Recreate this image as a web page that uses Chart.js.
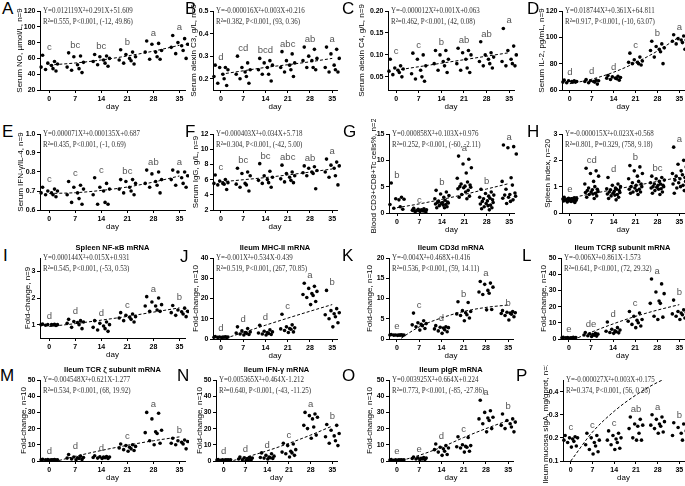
<!DOCTYPE html>
<html>
<head>
<meta charset="utf-8">
<script src="https://cdn.jsdelivr.net/npm/chart.js@4.4.0/dist/chart.umd.min.js"></script>
<style>
body { margin: 0; background: #fff; width: 685px; height: 486px; position: relative; overflow: hidden; font-family: "Liberation Sans", Arial, sans-serif; }
canvas { position: absolute; }
.plabel { position: absolute; font-size: 17px; line-height: 17px; color: #000; }
</style>
</head>
<body>
<script>
"use strict";

var days = [0, 7, 14, 21, 28, 35];
var dayLabels = ["0", "7", "14", "21", "28", "35"];

var aValues = [[64, 56, 54, 53, 51, 49, 47, 46, 44], [67, 63, 62, 55, 52, 49, 47, 45, 42], [65, 63, 62, 60, 58, 56, 54, 52, 50], [71, 68, 65, 62, 60, 58, 57, 54, 53], [82, 79, 78, 70, 68, 68, 62, 59, 59], [89, 85, 80, 78, 76, 74, 70, 66, 60]];
var aLetters = ["c", "bc", "bc", "b", "a", "a"];
var aTrend = [51.6, 54.2, 58.0, 63.1, 69.2, 76.6];
var aTicks = ["20", "40", "60", "80", "100", "120"];

var bValues = [[0.26, 0.25, 0.25, 0.24, 0.22, 0.21, 0.20, 0.18, 0.17], [0.30, 0.27, 0.25, 0.24, 0.23, 0.22, 0.21, 0.20, 0.18], [0.29, 0.28, 0.27, 0.26, 0.25, 0.24, 0.22, 0.22, 0.19], [0.32, 0.31, 0.28, 0.27, 0.26, 0.25, 0.24, 0.23, 0.21], [0.34, 0.33, 0.30, 0.29, 0.28, 0.28, 0.25, 0.25, 0.24], [0.34, 0.33, 0.31, 0.29, 0.26, 0.25, 0.24, 0.23, 0.23]];
var bLetters = ["d", "cd", "bcd", "abc", "ab", "a"];
var bTrend = [0.22, 0.235, 0.25, 0.262, 0.275, 0.29];
var bTicks = ["0.2", "0.3", "0.4", "0.5"];

var cValues = [[0.09, 0.075, 0.07, 0.068, 0.065, 0.063, 0.06, 0.055, 0.05], [0.104, 0.10, 0.09, 0.075, 0.065, 0.057, 0.05, 0.045, 0.04], [0.11, 0.11, 0.10, 0.09, 0.085, 0.08, 0.075, 0.065, 0.06], [0.115, 0.11, 0.105, 0.10, 0.09, 0.08, 0.07, 0.065, 0.06], [0.13, 0.105, 0.10, 0.095, 0.09, 0.085, 0.08, 0.075, 0.07], [0.16, 0.12, 0.11, 0.10, 0.09, 0.085, 0.08, 0.075, 0.075]];
var cLetters = ["c", "c", "b", "ab", "ab", "a"];
var cTrend = [0.065, 0.073, 0.081, 0.089, 0.097, 0.105];
var cTicks = ["0.05", "0.10", "0.15", "0.20"];

var dValues = [[67.5, 67, 67, 66.5, 66.5, 66, 66, 65.5, 66], [68, 67.5, 67, 67, 66.5, 66.5, 66, 65.5, 64.5], [71, 70.5, 70, 69.5, 69, 69, 68.5, 68, 67.5], [88, 85, 83, 82, 81, 81, 80, 80, 79], [97, 95, 93, 92, 91, 90, 89, 85, 80], [102, 101, 99, 98, 98, 97, 96, 95, 91]];
var dLetters = ["d", "d", "d", "c", "b", "a"];
var dTrend = [64.8, 68.2, 73.5, 80.7, 89.6, 100.4];
var dTicks = ["60", "80", "100", "120"];

var eValues = [[0.72, 0.71, 0.70, 0.70, 0.69, 0.69, 0.68, 0.68, 0.67], [0.75, 0.73, 0.72, 0.71, 0.69, 0.68, 0.66, 0.64, 0.63], [0.77, 0.74, 0.72, 0.71, 0.70, 0.68, 0.64, 0.63, 0.63], [0.76, 0.76, 0.75, 0.74, 0.72, 0.71, 0.70, 0.69, 0.68], [0.81, 0.80, 0.79, 0.76, 0.75, 0.74, 0.73, 0.72, 0.69], [0.81, 0.80, 0.80, 0.78, 0.77, 0.76, 0.74, 0.73, 0.72]];
var eLetters = ["c", "c", "c", "bc", "ab", "a"];
var eTrend = [0.687, 0.691, 0.703, 0.721, 0.747, 0.779];
var eTicks = ["0.6", "0.7", "0.8", "0.9", "1.0"];

var fValues = [[6.6, 6.0, 5.8, 5.6, 5.5, 5.5, 5.4, 5.3, 4.7], [7.5, 7.0, 6.8, 6.5, 5.5, 5.4, 5.3, 5.0, 4.5], [8.1, 7.1, 6.5, 6.3, 6.0, 5.9, 5.6, 5.5, 5.0], [7.9, 7.0, 6.8, 6.5, 6.3, 6.1, 5.9, 5.7, 5.6], [7.8, 7.7, 7.5, 7.2, 7.0, 6.9, 6.8, 6.5, 4.8], [8.7, 8.3, 7.9, 7.8, 7.5, 7.0, 6.5, 6.3, 5.3]];
var fLetters = ["c", "bc", "bc", "abc", "ab", "a"];
var fTrend = [5.7, 5.98, 6.27, 6.61, 6.99, 7.4];
var fTicks = ["2", "4", "6", "8", "10", "12"];

var gValues = [[5.7, 3.0, 2.7, 2.6, 2.5, 1.6, 1.2, 0.9, 0.7], [0.9, 0.8, 0.7, 0.6, 0.6, 0.5, 0.5, 0.4, 0.4, 0.3, 0.3, 0.2, 0.5, 0.6, 0.4], [4.3, 4.0, 3.6, 3.3, 3.0, 2.7, 2.4, 2.2, 2.1, 2.0, 2.0, 1.9, 1.8, 1.7, 1.6, 1.5, 1.4, 1.2, 1.0, 1.0], [10.8, 10.2, 9.3, 8.6, 7.6, 6.6, 5.9, 5.5, 5.3, 5.1, 5.0, 4.9, 4.8, 4.6, 4.3, 4.0, 3.5, 3.2, 3.0, 2.7], [4.5, 4.0, 3.7, 3.4, 3.2, 3.0, 2.8, 2.7, 2.5, 2.3, 2.2, 2.0, 1.8, 1.7, 1.5, 1.4, 1.2, 1.0, 0.8, 0.6], [12.9, 12.6, 12.4, 11.2, 6.7, 6.0, 5.3, 4.5, 3.8, 3.5, 3.4, 3.2, 3.0, 2.8, 2.5, 2.2, 1.8]];
var gLetters = ["b", "c", "b", "a", "b", "a"];
var gTrend = [1.0, 1.74, 2.59, 3.52, 4.56, 5.6];
var gTicks = ["0", "5", "10", "15"];

var hValues = [[0.6, 0.58, 0.56, 0.55, 0.54, 0.53, 0.52, 0.52, 0.5, 0.5, 0.49, 0.48, 0.47, 0.46, 0.45, 0.44, 0.42, 0.4], [1.7, 1.6, 1.5, 1.4, 1.2, 1.1, 1.0, 0.95, 0.9, 0.88, 0.85, 0.82, 0.8, 0.78, 0.75, 0.72, 0.7, 0.65, 0.6, 0.55], [1.35, 1.1, 1.05, 1.0, 0.95, 0.92, 0.9, 0.88, 0.85, 0.82, 0.8, 0.78, 0.75, 0.72, 0.7, 0.68, 0.65, 0.6, 0.55, 0.5], [1.8, 1.75, 1.6, 1.5, 1.4, 1.3, 1.2, 1.15, 1.1, 1.05, 1.0, 1.0, 0.95, 0.9, 0.9, 0.85, 0.8, 0.8, 0.75, 0.7], [1.4, 1.35, 1.3, 1.25, 1.2, 1.15, 1.1, 1.1, 1.05, 1.05, 1.0, 1.0, 0.98, 0.95, 0.92, 0.9, 0.85, 0.8, 0.75, 0.7], [2.5, 2.0, 1.85, 1.75, 1.6, 1.5, 1.45, 1.4, 1.35, 1.3, 1.25, 1.2, 1.15, 1.1, 1.05, 1.0, 0.95, 0.85, 0.75]];
var hLetters = ["e", "cd", "d", "b", "bc", "a"];
var hTrend = [0.57, 0.73, 0.89, 1.04, 1.20, 1.35];
var hTicks = ["0", "1", "2", "3"];

var iValues = [[1.02, 1.01, 1.0, 1.0, 1.0, 1.0, 0.99, 0.98, 0.97], [1.2, 1.15, 1.12, 1.1, 1.08, 1.05, 1.0, 0.9, 0.85], [1.15, 1.1, 1.05, 1.0, 0.95, 0.9, 0.85, 0.8, 0.75], [1.45, 1.4, 1.35, 1.3, 1.28, 1.25, 1.2, 1.15, 1.1], [2.05, 2.0, 1.85, 1.75, 1.7, 1.7, 1.55, 1.5, 1.5], [1.72, 1.62, 1.55, 1.5, 1.48, 1.45, 1.4, 1.35, 1.3]];
var iLetters = ["d", "d", "d", "c", "a", "b"];
var iTrend = [0.93, 1.04, 1.17, 1.31, 1.47, 1.63];
var iTicks = ["1", "2", "3"];

var jValues = [[1.2, 1.1, 1.0, 1.0, 1.0, 0.9, 0.9, 0.8, 0.8, 0.7], [6.0, 5.2, 4.0, 3.5, 3.2, 3.0, 2.8, 2.5, 2.2, 2.0], [6.8, 4.5, 3.8, 3.5, 3.2, 3.0, 2.7, 2.5, 2.2, 2.0], [12.2, 7.0, 6.0, 5.5, 5.2, 5.0, 4.8, 4.2, 3.5, 3.2], [27.5, 26.0, 25.0, 23.5, 22.5, 22.0, 21.5, 20.5, 18.5, 17.0], [24.0, 15.0, 14.0, 13.0, 12.5, 12.0, 11.0, 10.0, 8.0, 6.0]];
var jLetters = ["d", "d", "d", "c", "a", "b"];
var jTrend = [-0.4, 3.2, 6.8, 10.3, 13.7, 17.0];
var jTicks = ["0", "10", "20", "30", "40"];

var kValues = [[1.1, 1.05, 1.0, 1.0, 1.0, 1.0, 0.95, 0.95, 0.9, 0.9], [6.4, 4.5, 4.0, 3.8, 3.6, 3.5, 3.3, 3.0, 2.6, 2.2], [3.3, 3.0, 2.9, 2.8, 2.7, 2.5, 2.3, 2.0, 1.8, 1.4], [9.2, 9.0, 7.0, 6.8, 6.5, 6.2, 6.0, 5.8, 5.2, 4.5], [14.2, 13.8, 13.5, 12.8, 12.0, 11.6, 11.3, 11.0, 7.3, 7.2], [7.0, 6.8, 6.6, 6.5, 6.4, 6.3, 6.1, 5.8, 5.5, 4.7]];
var kLetters = ["e", "c", "d", "b", "a", "b"];
var kTrend = [-0.5, 3.0, 5.2, 6.8, 7.8, 8.4];
var kTicks = ["0", "5", "10", "15", "20"];

var lValues = [[1.0, 1.0, 0.9, 0.9, 0.8, 0.8, 0.7, 0.7, 0.6, 0.5], [4.0, 3.5, 3.2, 3.0, 2.8, 2.5, 2.3, 2.0, 1.8, 1.5], [10.5, 7.0, 6.0, 5.5, 5.0, 4.8, 4.5, 4.0, 3.8, 3.5], [17.0, 16.0, 14.0, 12.0, 11.5, 11.0, 10.0, 9.0, 8.0, 7.0], [37.0, 34.0, 29.0, 28.0, 23.5, 22.0, 22.0, 14.0, 13.5, 12.0], [24.0, 18.0, 17.0, 16.5, 16.0, 15.5, 15.0, 14.0, 13.0, 12.0]];
var lLetters = ["e", "de", "d", "c", "a", "b"];
var lTrend = [-1.6, 4.1, 9.3, 13.9, 17.8, 21.2];
var lTicks = ["0", "10", "20", "30", "40", "50"];

var mValues = [[1.0, 0.9, 0.9, 0.8, 0.8, 0.8, 0.7, 0.7, 0.6, 0.6], [4.0, 3.0, 2.5, 2.2, 2.0, 1.8, 1.5, 1.2, 1.0, 0.8], [3.2, 2.8, 2.6, 2.5, 2.4, 2.2, 2.0, 1.8, 1.6, 1.5], [10.5, 10.0, 9.5, 9.0, 8.5, 8.0, 7.5, 7.0, 6.5, 6.0], [30.0, 29.5, 26.0, 19.0, 18.0, 17.5, 17.0, 12.5, 11.0, 10.0], [14.0, 13.0, 12.5, 12.0, 11.5, 11.0, 10.5, 10.0, 7.5]];
var mLetters = ["d", "d", "d", "c", "a", "b"];
var mTrend = [-1.3, 2.9, 6.5, 9.7, 12.5, 14.9];
var mTicks = ["0", "10", "20", "30", "40", "50"];

var nValues = [[0.9, 0.8, 0.8, 0.7, 0.7, 0.6, 0.6, 0.5, 0.5, 0.4], [2.5, 2.2, 2.0, 1.8, 1.5, 1.2, 1.0, 0.8, 0.6, 0.5], [5.0, 4.5, 3.5, 3.0, 2.5, 2.2, 2.0, 1.8, 1.5, 1.2], [11.0, 10.5, 9.5, 7.0, 6.0, 5.5, 5.0, 4.5, 3.5, 2.5], [30.0, 29.0, 28.0, 27.0, 26.0, 22.0, 21.0, 20.0, 16.0, 14.0], [22.5, 22.0, 19.0, 17.0, 15.5, 15.0, 12.5, 11.0, 9.5]];
var nLetters = ["d", "d", "d", "c", "a", "b"];
var nTrend = [-1.2, 2.3, 6.3, 10.9, 16.0, 21.6];
var nTicks = ["0", "10", "20", "30", "40", "50"];

var oValues = [[0.9, 0.8, 0.8, 0.7, 0.7, 0.6, 0.6, 0.5, 0.5, 0.4], [2.5, 2.2, 2.0, 1.8, 1.6, 1.5, 1.3, 1.2, 1.0, 0.8], [10.5, 9.5, 8.5, 8.0, 7.5, 7.0, 6.0, 5.5, 4.0, 3.5], [15.0, 14.5, 10.0, 9.5, 9.0, 8.8, 8.5, 8.0, 6.0, 5.5], [37.5, 31.0, 30.0, 27.0, 26.5, 26.0, 25.0, 23.0, 20.0, 18.0], [29.0, 26.0, 25.0, 24.0, 23.0, 22.0, 21.0, 20.0, 18.0]];
var oLetters = ["e", "e", "d", "c", "a", "b"];
var oTrend = [-0.5, 3.5, 8.5, 14.5, 20.0, 25.0];
var oTicks = ["0", "10", "20", "30", "40", "50"];

var pValues = [[0.21, 0.205, 0.20, 0.20, 0.195, 0.19, 0.185, 0.18, 0.165, 0.16], [0.22, 0.21, 0.20, 0.19, 0.18, 0.17, 0.165, 0.15, 0.14, 0.13], [0.23, 0.22, 0.21, 0.20, 0.195, 0.19, 0.18, 0.17, 0.155, 0.15], [0.29, 0.28, 0.26, 0.255, 0.25, 0.24, 0.22, 0.20, 0.19, 0.19], [0.30, 0.29, 0.28, 0.27, 0.26, 0.255, 0.25, 0.24, 0.225, 0.22], [0.265, 0.26, 0.245, 0.23, 0.22, 0.21, 0.19]];
var pLetters = ["c", "c", "c", "ab", "a", "b"];
var pTrend = [0.10, 0.225, 0.315, 0.385, 0.44, 0.48];
var pTicks = ["0.1", "0.2", "0.3", "0.4"];

// horizontal scatter of the dots inside a group, in days
var spread = [-1.8, 1.4, -0.4, 2.2, 0.6, -2.2, 1.0, -1.0, 1.8, 0.2, -1.4, 2.0, -0.2, -2.0, 1.2, 0.4, -0.8, 1.6, -1.6, 0.8];

var panels = [
    { id: "A", values: aValues, letters: aLetters, trend: aTrend, ticks: aTicks, min: 20, max: 120, yTitle: "Serum NO, µmol/L, n=9",
      eq1: "Y=0.012119X²+0.291X+51.609", eq2: "R²=0.555, P<0.001, (-12, 49.86)", box: [40, 185.6, 10.7, 90, 20], lab: [2, 0] },
    { id: "B", values: bValues, letters: bLetters, trend: bTrend, ticks: bTicks, min: 0.15, max: 0.5, yTitle: "Serum alexin C3, g/L, n=9",
      eq1: "Y=-0.000016X²+0.003X+0.216", eq2: "R²=0.382, P<0.001, (93, 0.36)", box: [213, 338, 10.7, 90, 19], lab: [185, 0] },
    { id: "C", values: cValues, letters: cLetters, trend: cTrend, ticks: cTicks, min: 0.02, max: 0.2, yTitle: "Serum alexin C4, g/L, n=9",
      eq1: "Y=-0.000012X²+0.001X+0.063", eq2: "R²=0.462, P<0.001, (42, 0.08)", box: [387.5, 514, 10.7, 90, 26], lab: [342, 0] },
    { id: "D", values: dValues, letters: dLetters, trend: dTrend, ticks: dTicks, min: 60, max: 120, yTitle: "Serum IL-2, pg/mL, n=9",
      eq1: "Y=0.018744X²+0.361X+64.811", eq2: "R²=0.917, P<0.001, (-10, 63.07)", box: [562, 684.5, 10.7, 90, 20], lab: [527, 0] },
    { id: "E", values: eValues, letters: eLetters, trend: eTrend, ticks: eTicks, min: 0.6, max: 1.0, yTitle: "Serum IFN-γ/IL-4, n=9",
      eq1: "Y=0.000071X²+0.000135X+0.687", eq2: "R²=0.435, P<0.001, (-1, 0.69)", box: [40, 185.6, 134, 210, 19], lab: [2, 123] },
    { id: "F", values: fValues, letters: fLetters, trend: fTrend, ticks: fTicks, min: 2, max: 12, yTitle: "Serum IgG, g/L, n=9",
      eq1: "Y=0.000403X²+0.034X+5.718", eq2: "R²=0.304, P<0.001, (-42, 5.00)", box: [213, 338, 134, 210, 17], lab: [185, 123] },
    { id: "G", values: gValues, letters: gLetters, trend: gTrend, ticks: gTicks, min: 0, max: 15, yTitle: "Blood CD3+CD8+Tc cells%, n=20",
      eq1: "Y=0.000858X²+0.103X+0.976", eq2: "R²=0.252, P<0.001, (-60, -2.11)", box: [388.5, 514, 134, 213, 15], lab: [343, 123] },
    { id: "H", values: hValues, letters: hLetters, trend: hTrend, ticks: hTicks, min: 0, max: 3, yTitle: "Spleen index, n=20",
      eq1: "Y=-0.000015X²+0.023X+0.568", eq2: "R²=0.801, P=0.329, (758, 9.18)", box: [562, 684.5, 134, 213, 14], lab: [527, 123] },
    { id: "I", values: iValues, letters: iLetters, trend: iTrend, ticks: iTicks, min: 0.5, max: 3.5, yTitle: "Fold-change, n=9", title: "Spleen NF-κB mRNA",
      eq1: "Y=0.000144X²+0.015X+0.931", eq2: "R²=0.545, P<0.001, (-53, 0.53)", box: [40, 185.6, 258, 338, 12], lab: [3, 247] },
    { id: "J", values: jValues, letters: jLetters, trend: jTrend, ticks: jTicks, min: 0, max: 40, yTitle: "Fold-change, n=10", title: "Ileum MHC-II mRNA",
      eq1: "Y=-0.001X²+0.534X-0.439", eq2: "R²=0.519, P<0.001, (267, 70.85)", box: [213, 338, 257.5, 338, 17], lab: [180, 248] },
    { id: "K", values: kValues, letters: kLetters, trend: kTrend, ticks: kTicks, min: 0, max: 20, yTitle: "Fold-change, n=10", title: "Ileum CD3d mRNA",
      eq1: "Y=-0.004X²+0.468X+0.416", eq2: "R²=0.536, P<0.001, (59, 14.11)", box: [389, 514, 257.5, 338, 19], lab: [342, 247] },
    { id: "L", values: lValues, letters: lLetters, trend: lTrend, ticks: lTicks, min: 0, max: 50, yTitle: "Fold-change, n=10", title: "Ileum TCRβ subunit mRNA",
      eq1: "Y=-0.006X²+0.861X-1.573", eq2: "R²=0.641, P<0.001, (72, 29.32)", box: [561, 684.5, 257.5, 338, 17], lab: [522, 247] },
    { id: "M", values: mValues, letters: mLetters, trend: mTrend, ticks: mTicks, min: 0, max: 50, yTitle: "Fold-change, n=10", title: "Ileum TCR ζ subunit mRNA",
      eq1: "Y=-0.004548X²+0.621X-1.277", eq2: "R²=0.534, P<0.001, (68, 19.92)", box: [40, 185.6, 380, 461, 16], lab: [0, 367] },
    { id: "N", values: nValues, letters: nLetters, trend: nTrend, ticks: nTicks, min: 0, max: 50, yTitle: "Fold-change, n=10", title: "Ileum IFN-γ mRNA",
      eq1: "Y=0.005365X²+0.464X-1.212", eq2: "R²=0.640, P<0.001, (-43, -11.25)", box: [216, 338, 380, 461, 16], lab: [177, 367] },
    { id: "O", values: oValues, letters: oLetters, trend: oTrend, ticks: oTicks, min: 0, max: 50, yTitle: "Fold-change, n=10", title: "Ileum pIgR mRNA",
      eq1: "Y=0.003925X²+0.664X+0.224", eq2: "R²=0.773, P<0.001, (-85, -27.86)", box: [389, 514, 380, 461, 19], lab: [342, 367] },
    { id: "P", values: pValues, letters: pLetters, trend: pTrend, ticks: pTicks, min: 0.1, max: 0.45, yTitle: "Ileum mucosa sIgA, mg/gprot, n=10",
      eq1: "Y=-0.000027X²+0.003X+0.175", eq2: "R²=0.374, P<0.001, (56, 0.26)", box: [563, 684.5, 380, 461, 17], lab: [516, 367] }
];

var PT = 15, PR = 3, XH = 24;
var sans = "'Liberation Sans', Arial, sans-serif";

function textPlugin(p) {
    return {
        id: "panelText",
        afterDatasetsDraw: function (chart) {
            var ctx = chart.ctx, a = chart.chartArea;
            var xs = chart.scales.x, ys = chart.scales.y;
            ctx.save();
            ctx.fillStyle = "#555";
            ctx.font = "9.5px " + sans;
            ctx.textAlign = "center";
            ctx.textBaseline = "bottom";
            p.letters.forEach(function (l, i) {
                var top = Math.max.apply(null, p.values[i]);
                ctx.fillText(l, xs.getPixelForValue(days[i]), ys.getPixelForValue(top) - 3);
            });
            ctx.fillStyle = "#333";
            ctx.font = "8.5px 'Liberation Serif', 'Times New Roman', serif";
            ctx.textAlign = "left";
            ctx.textBaseline = "middle";
            [p.eq1, p.eq2].forEach(function (t, k) {
                ctx.save();
                ctx.translate(a.left + 3, a.top + k * 10.5);
                ctx.scale(0.82, 1);
                ctx.fillText(t, 0, 0);
                ctx.restore();
            });
            if (p.title) {
                ctx.fillStyle = "#000";
                ctx.font = "bold 7.5px " + sans;
                ctx.textAlign = "center";
                ctx.fillText(p.title, (a.left + a.right) / 2, a.top - 10);
            }
            ctx.restore();
        }
    };
}

panels.forEach(function (p) {
    var ax = p.box[0], right = p.box[1], top = p.box[2], bottom = p.box[3];
    var yw = p.box[4] + 5;
    var left = ax - yw, ctop = top - PT;
    var w = Math.round(right - left + PR), h = Math.round(bottom - ctop + XH);

    var cv = document.createElement("canvas");
    cv.width = w;
    cv.height = h;
    cv.style.left = left + "px";
    cv.style.top = ctop + "px";
    cv.style.width = w + "px";
    cv.style.height = h + "px";
    document.body.appendChild(cv);

    var lab = document.createElement("div");
    lab.className = "plabel";
    lab.style.left = p.lab[0] + "px";
    lab.style.top = p.lab[1] + "px";
    lab.textContent = p.id;
    document.body.appendChild(lab);

    var dots = [];
    p.values.forEach(function (group, i) {
        group.forEach(function (v, j) {
            dots.push({ x: days[i] + spread[j % spread.length], y: v });
        });
    });
    var fit = p.trend.map(function (v, i) { return { x: days[i], y: v }; });
    var tickVals = p.ticks.map(function (t) { return parseFloat(t); });

    new Chart(cv.getContext("2d"), {
        type: "scatter",
        data: {
            datasets: [{
                data: dots,
                backgroundColor: "#000",
                borderWidth: 0,
                pointRadius: 1.8,
                clip: 4
            }, {
                data: fit,
                showLine: true,
                borderColor: "#000",
                borderWidth: 1,
                borderDash: [3, 2],
                pointRadius: 0,
                cubicInterpolationMode: "monotone",
                clip: 0
            }]
        },
        options: {
            responsive: false,
            animation: false,
            devicePixelRatio: 1,
            layout: { padding: { left: 0, top: PT, right: PR, bottom: 0 } },
            plugins: { legend: { display: false }, tooltip: { enabled: false } },
            scales: {
                x: {
                    type: "linear",
                    min: -2.5,
                    max: 36.5,
                    afterBuildTicks: function (s) { s.ticks = days.map(function (d) { return { value: d }; }); },
                    afterFit: function (s) { s.height = XH; },
                    ticks: {
                        autoSkip: false,
                        maxRotation: 0,
                        padding: 2,
                        color: "#000",
                        font: { family: sans, size: 7, weight: "bold" },
                        callback: function (v, i) { return dayLabels[i]; }
                    },
                    grid: { drawOnChartArea: false, color: "#000", tickLength: 3 },
                    border: { color: "#000", width: 1 },
                    title: { display: true, text: "day", color: "#000", font: { family: sans, size: 8 }, padding: { top: 0, bottom: 2 } }
                },
                y: {
                    min: p.min,
                    max: p.max,
                    afterBuildTicks: function (s) { s.ticks = tickVals.map(function (v) { return { value: v }; }); },
                    afterFit: function (s) { s.width = yw; },
                    ticks: {
                        padding: 1.5,
                        color: "#000",
                        font: { family: sans, size: 7, weight: "bold" },
                        callback: function (v, i) { return p.ticks[i]; }
                    },
                    grid: { drawOnChartArea: false, color: "#000", tickLength: 3 },
                    border: { color: "#000", width: 1 },
                    title: { display: true, text: p.yTitle, color: "#000", font: { family: sans, size: 8 }, padding: { top: 0, bottom: 0 } }
                }
            }
        },
        plugins: [textPlugin(p)]
    });
});
</script>
</body>
</html>
